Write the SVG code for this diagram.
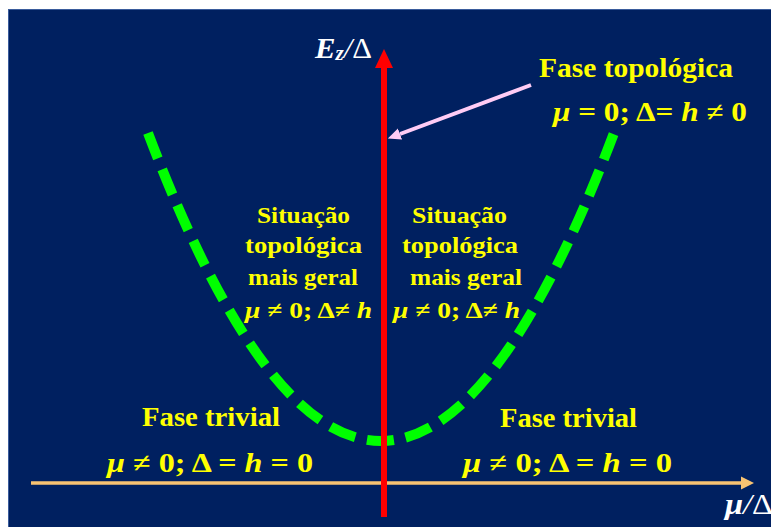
<svg xmlns="http://www.w3.org/2000/svg" width="771" height="527" viewBox="0 0 771 527">
<style>
.lbl{font-family:"Liberation Serif","DejaVu Serif",serif;font-weight:bold;fill:#FFFF00;font-size:24px}
.big{font-size:27px}
.it{font-style:italic}
.ax{font-family:"Liberation Serif","DejaVu Serif",serif;fill:#FFFFFF;font-size:29px}
</style>
<defs>
<marker id="redhead" markerUnits="userSpaceOnUse" markerWidth="20" markerHeight="20" refX="0" refY="10" orient="auto" viewBox="0 0 20 20"><path d="M0,1 L19,10 L0,19 Z" fill="#FF0000"/></marker>
<marker id="orhead" markerUnits="userSpaceOnUse" markerWidth="14" markerHeight="14" refX="0" refY="7" orient="auto" viewBox="0 0 14 14"><path d="M0,0.5 L13,7 L0,13.5 Z" fill="#F8C372"/></marker>
<marker id="pkhead" markerUnits="userSpaceOnUse" markerWidth="14" markerHeight="14" refX="0" refY="7" orient="auto" viewBox="0 0 14 14"><path d="M0,1 L13,7 L0,13 Z" fill="#FFCCF5"/></marker>
</defs>
<rect x="0" y="0" width="771" height="527" fill="#FFFFFF"/>
<rect x="8.5" y="9.5" width="770" height="520" fill="#002060" stroke="#3A5C9C" stroke-width="1"/>
<g id="curve">
<path d="M148,133 Q381,749 614,133" fill="none" stroke="#00FF00" stroke-width="10" stroke-dasharray="27 12"/>
</g>
<g id="connectors">
<line x1="31" y1="483" x2="741" y2="483" stroke="#F8C372" stroke-width="3.5" marker-end="url(#orhead)"/>
<line x1="384" y1="517" x2="384" y2="68" stroke="#FF0000" stroke-width="6" marker-end="url(#redhead)"/>
<line x1="531" y1="85" x2="400" y2="134" stroke="#FFCCF5" stroke-width="4" marker-end="url(#pkhead)"/>
</g>
<g id="axis-labels">
<text class="ax" x="315" y="58" textLength="57" lengthAdjust="spacingAndGlyphs"><tspan font-weight="bold" font-style="italic">E</tspan><tspan font-weight="bold" font-style="italic" font-size="20" dy="2">z</tspan><tspan dy="-2" font-style="italic">/</tspan><tspan>Δ</tspan></text>
<text class="ax" x="725" y="514" textLength="48" lengthAdjust="spacingAndGlyphs"><tspan font-weight="bold" font-style="italic">μ</tspan><tspan font-style="italic">/</tspan><tspan>Δ</tspan></text>
</g>
<g id="fase-topologica">
<text class="lbl big" x="539" y="77" textLength="194" lengthAdjust="spacingAndGlyphs">Fase topológica</text>
<text class="lbl big" x="553" y="121" textLength="194" lengthAdjust="spacingAndGlyphs"><tspan class="it">μ</tspan> = 0; Δ= <tspan class="it">h</tspan> ≠ 0</text>
</g>
<g id="situacao-esq">
<text class="lbl" x="257" y="223" textLength="93" lengthAdjust="spacingAndGlyphs">Situação</text>
<text class="lbl" x="245" y="253" textLength="117" lengthAdjust="spacingAndGlyphs">topológica</text>
<text class="lbl" x="248" y="285" textLength="110" lengthAdjust="spacingAndGlyphs">mais geral</text>
<text class="lbl" x="245" y="318" textLength="127" lengthAdjust="spacingAndGlyphs"><tspan class="it">μ</tspan> ≠ 0; Δ≠ <tspan class="it">h</tspan></text>
</g>
<g id="situacao-dir">
<text class="lbl" x="412" y="223" textLength="95" lengthAdjust="spacingAndGlyphs">Situação</text>
<text class="lbl" x="402" y="253" textLength="116" lengthAdjust="spacingAndGlyphs">topológica</text>
<text class="lbl" x="410" y="285" textLength="112" lengthAdjust="spacingAndGlyphs">mais geral</text>
<text class="lbl" x="393" y="318" textLength="127" lengthAdjust="spacingAndGlyphs"><tspan class="it">μ</tspan> ≠ 0; Δ≠ <tspan class="it">h</tspan></text>
</g>
<g id="fase-trivial-esq">
<text class="lbl big" x="142" y="426" textLength="138" lengthAdjust="spacingAndGlyphs">Fase trivial</text>
<text class="lbl big" x="107" y="472" textLength="206" lengthAdjust="spacingAndGlyphs"><tspan class="it">μ</tspan> ≠ 0; Δ = <tspan class="it">h</tspan> =  0</text>
</g>
<g id="fase-trivial-dir">
<text class="lbl big" x="500" y="427" textLength="137" lengthAdjust="spacingAndGlyphs">Fase trivial</text>
<text class="lbl big" x="463" y="472" textLength="209" lengthAdjust="spacingAndGlyphs"><tspan class="it">μ</tspan> ≠ 0; Δ = <tspan class="it">h</tspan> =  0</text>
</g>
</svg>
